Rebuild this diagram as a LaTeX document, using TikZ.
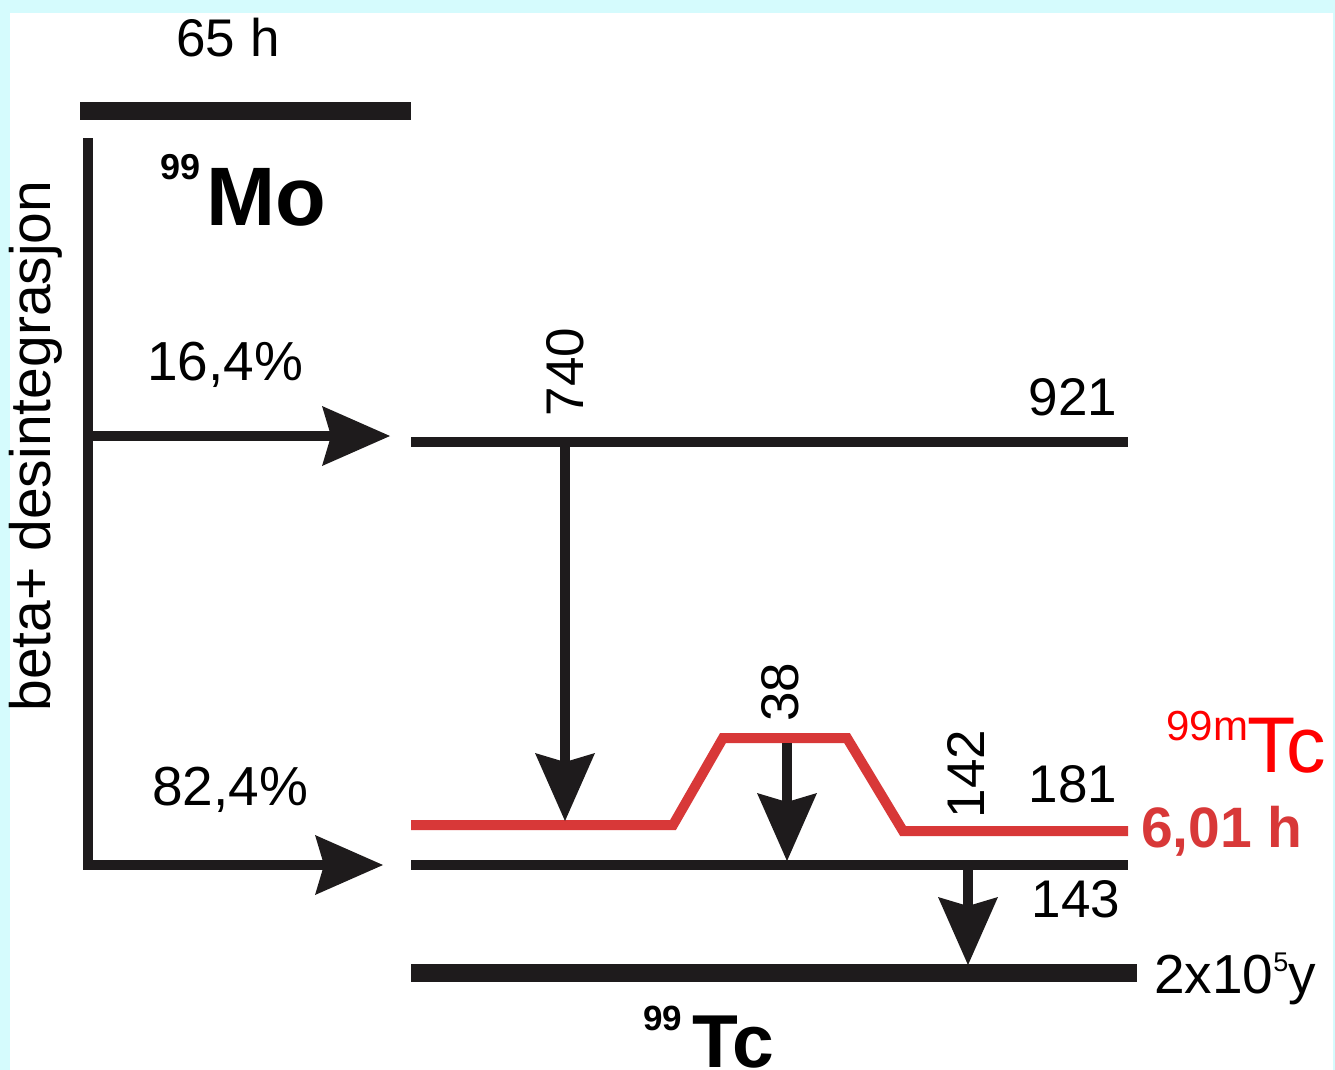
\documentclass[tikz,border=0pt]{standalone}
\usepackage{fontspec}
\setmainfont{Liberation Sans}
\usetikzlibrary{arrows.meta}
\definecolor{bgcyan}{RGB}{213,251,253}
\definecolor{lvlblack}{RGB}{30,27,28}
\definecolor{lvlred}{RGB}{216,56,56}
\definecolor{tcred}{RGB}{255,0,0}
\tikzset{
  lvl/.style={draw=lvlblack,line width=10pt},
  lvlthick/.style={draw=lvlblack,line width=18pt},
  redlvl/.style={draw=lvlred,line width=10pt,line join=miter},
  arr/.style={draw=lvlblack,line width=10pt,
    -{Stealth[length=68pt,width=60pt,inset=9pt,line width=0pt]}},
  txt/.style={inner sep=0pt,outer sep=0pt,text=black,font=\fontsize{53}{60}\selectfont},
}
\begin{document}
\begin{tikzpicture}[x=1pt,y=-1pt]
\useasboundingbox (0,0) rectangle (1335,1070);
\fill[bgcyan] (0,0) rectangle (1335,1070);
\fill[white] (10,13) rectangle (1333,1070);

% coordinates
\coordinate (moL) at (80,111);
\coordinate (moR) at (411,111);
\coordinate (vtop) at (88,138);
\coordinate (vbr) at (88,436);
\coordinate (tip921) at (390,436);
\coordinate (tip143) at (383,865);
\coordinate (l921L) at (411,442);
\coordinate (l921R) at (1128,442);
\coordinate (g740s) at (565,442);
\coordinate (g740e) at (565,821);
\coordinate (r1) at (411,825);
\coordinate (r2) at (673,825);
\coordinate (r3) at (723,738);
\coordinate (r4) at (847,738);
\coordinate (r5) at (903,831);
\coordinate (r6) at (1128,831);
\coordinate (g38s) at (787,743);
\coordinate (g38e) at (787,861);
\coordinate (l143L) at (411,865);
\coordinate (l143R) at (1128,865);
\coordinate (g142s) at (968,870);
\coordinate (g142e) at (968,965);
\coordinate (l0L) at (411,973);
\coordinate (l0R) at (1137,973);

% levels
\draw[lvlthick] (moL) -- (moR);
\draw[lvl] (l921L) -- (l921R);
\draw[lvl] (l143L) -- (l143R);
\draw[lvlthick] (l0L) -- (l0R);
\draw[redlvl] (r1) -- (r2) -- (r3) -- (r4) -- (r5) -- (r6);

% decay branches
\draw[arr,line join=miter] (vtop) |- (tip143);
\draw[arr] (vbr) -- (tip921);

% gamma transitions
\draw[arr] (g740s) -- (g740e);
\draw[arr] (g38s) -- (g38e);
\draw[arr] (g142s) -- (g142e);

% texts
\node[txt,anchor=base] (t65) at (228,57) {65 h};
\node[txt,anchor=base west,font=\bfseries\fontsize{36}{40}\selectfont] (mo99) at (160,179) {99};
\node[txt,anchor=base west,font=\bfseries\fontsize{83}{90}\selectfont] (mo) at (206,225) {Mo};
\node[txt,rotate=90,font=\fontsize{57}{60}\selectfont] (beta) at (36,446) {beta+ desintegrasjon};
\node[txt,anchor=base west,font=\fontsize{55}{60}\selectfont] (p164) at (147,380) {16,4\%};
\node[txt,anchor=base west,font=\fontsize{55}{60}\selectfont] (p824) at (152,805) {82,4\%};
\node[txt,anchor=base east] (e921) at (1117,415) {921};
\node[txt,anchor=base east] (e181) at (1117,802) {181};
\node[txt,anchor=base east] (e143) at (1120,917) {143};
\node[txt,rotate=90] (g740) at (565,372) {740};
\node[txt,rotate=90] (g38) at (780,692) {38};
\node[txt,rotate=90] (g142) at (966,774) {142};
\node[txt,anchor=base west,text=lvlred,font=\bfseries\fontsize{57}{60}\selectfont] (half) at (1141,847) {6,01 h};
\node[txt,anchor=base east,text=tcred,font=\fontsize{42}{44}\selectfont] (tc99m) at (1248,740) {99m};
\node[txt,anchor=base west,text=tcred,font=\fontsize{79}{80}\selectfont] (tcm) at (1247,772) {Tc};
\node[txt,anchor=base west,font=\fontsize{55}{60}\selectfont] (life) at (1154,993) {2x10\raisebox{22pt}{\fontsize{27}{30}\selectfont 5}y};
\node[txt,anchor=base west,font=\bfseries\fontsize{35}{40}\selectfont] (tc99) at (643,1030) {99};
\node[txt,anchor=base west,font=\bfseries\fontsize{75}{80}\selectfont] (tc) at (692,1067) {Tc};
\end{tikzpicture}
\end{document}
